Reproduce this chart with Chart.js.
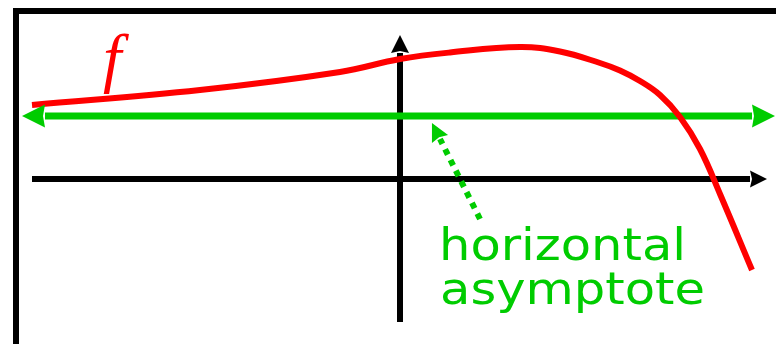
<!DOCTYPE html>
<html>
<head>
<meta charset="utf-8">
<script src="https://cdn.jsdelivr.net/npm/chart.js@4/dist/chart.umd.min.js"></script>
<style>
  html, body { margin: 0; padding: 0; background: #ffffff; }
  #wrap { width: 776px; height: 344px; }
</style>
</head>
<body>
<div id="wrap"><canvas id="c" width="776" height="344"></canvas></div>
<script>
// Curve f (data units; origin at the axes crossing)
const fX = [-7.36, -4.0, -1.2, 0, 1.0, 2.4, 3.2, 4.0, 4.4, 4.8, 5.2, 5.6, 6.0, 6.4, 7.04];
const fY = [1.48, 1.78, 2.14, 2.4, 2.53, 2.64, 2.55, 2.32, 2.17, 1.96, 1.68, 1.24, 0.6, -0.3, -1.82];

// Horizontal asymptote y = 1.26
const asymX = [-7.1, 7.04];
const asymY = [1.26, 1.26];

// Coordinate axes
const xAxisX = [-7.36, 7.0];
const xAxisY = [0, 0];
const yAxisX = [0, 0];
const yAxisY = [-2.86, 2.52];

// Dotted pointer from the label to the asymptote
const ptrX = [1.6, 0.8];
const ptrY = [-0.8, 0.8];

// Frame corner (left edge x, top edge y)
const frameX = -7.68;
const frameY = 3.36;

const RED = '#ff0000';
const GREEN = '#00cc00';

const pts = (xs, ys) => xs.map((x, i) => ({ x, y: ys[i] }));

// Helper: arrowhead continuing past the last point of a dataset
function arrowHead(ctx, p0, p1, len, half, color) {
  const dx = p1.x - p0.x, dy = p1.y - p0.y;
  const d = Math.hypot(dx, dy);
  const ux = dx / d, uy = dy / d;
  const tx = p1.x + ux * len, ty = p1.y + uy * len;
  ctx.beginPath();
  ctx.moveTo(tx, ty);
  ctx.lineTo(p1.x - uy * half, p1.y + ux * half);
  ctx.lineTo(p1.x + ux * 2, p1.y + uy * 2);
  ctx.lineTo(p1.x + uy * half, p1.y - ux * half);
  ctx.closePath();
  ctx.fillStyle = color;
  ctx.fill();
}

const decorations = {
  id: 'decorations',
  beforeDatasetsDraw(chart) {
    const { ctx, scales: { x, y } } = chart;
    ctx.save();
    // frame
    ctx.strokeStyle = '#000';
    ctx.lineWidth = 6;
    ctx.lineCap = 'butt';
    ctx.beginPath();
    ctx.moveTo(x.getPixelForValue(frameX), 344);
    ctx.lineTo(x.getPixelForValue(frameX), y.getPixelForValue(frameY));
    ctx.lineTo(776, y.getPixelForValue(frameY));
    ctx.stroke();
    ctx.restore();
  },
  afterDatasetsDraw(chart) {
    const { ctx } = chart;
    const end = (i, a, b) => {
      const m = chart.getDatasetMeta(i).data;
      return [m[a], m[b]];
    };
    ctx.save();
    // axis heads
    let [a, b] = end(1, 0, 1);
    arrowHead(ctx, a, b, 17, 8.5, '#000');
    [a, b] = end(2, 0, 1);
    arrowHead(ctx, a, b, 18, 9, '#000');
    // asymptote heads, both ends
    [a, b] = end(3, 0, 1);
    arrowHead(ctx, a, b, 23, 11.5, GREEN);
    arrowHead(ctx, b, a, 23, 11.5, GREEN);
    // pointer head
    [a, b] = end(4, 0, 1);
    arrowHead(ctx, a, b, 18, 9, GREEN);

    // labels
    const { x, y } = chart.scales;
    ctx.fillStyle = RED;
    ctx.font = 'italic 66px "Liberation Serif"';
    ctx.textBaseline = 'alphabetic';
    ctx.fillText('f', x.getPixelForValue(-5.94), y.getPixelForValue(1.98));

    ctx.fillStyle = GREEN;
    ctx.font = '45px "DejaVu Sans"';
    const drawFit = (txt, px, py, w) => {
      const m = ctx.measureText(txt).width;
      ctx.save();
      ctx.translate(px, py);
      ctx.scale(w / m, 1);
      ctx.fillText(txt, 0, 0);
      ctx.restore();
    };
    drawFit('horizontal', x.getPixelForValue(0.78), y.getPixelForValue(-1.62), 247);
    drawFit('asymptote', x.getPixelForValue(0.8), y.getPixelForValue(-2.5), 265);
    ctx.restore();
  }
};

new Chart(document.getElementById('c'), {
  type: 'line',
  data: {
    datasets: [
      { data: pts(fX, fY), borderColor: RED, borderWidth: 6, tension: 0.4, borderJoinStyle: 'round', pointRadius: 0, order: 1 },
      { data: pts(xAxisX, xAxisY), borderColor: '#000', borderWidth: 6, pointRadius: 0, order: 3 },
      { data: pts(yAxisX, yAxisY), borderColor: '#000', borderWidth: 6, pointRadius: 0, order: 3 },
      { data: pts(asymX, asymY), borderColor: GREEN, borderWidth: 7, pointRadius: 0, order: 2 },
      { data: pts(ptrX, ptrY), borderColor: GREEN, borderWidth: 6, borderDash: [6, 6], borderCapStyle: 'butt', pointRadius: 0, order: 2 }
    ]
  },
  options: {
    responsive: false,
    animation: false,
    layout: { padding: 0 },
    plugins: { legend: { display: false }, tooltip: { enabled: false } },
    scales: {
      x: { type: 'linear', min: -8, max: 7.52, display: false },
      y: { type: 'linear', min: -3.3, max: 3.58, display: false }
    }
  },
  plugins: [decorations]
});
</script>
</body>
</html>
